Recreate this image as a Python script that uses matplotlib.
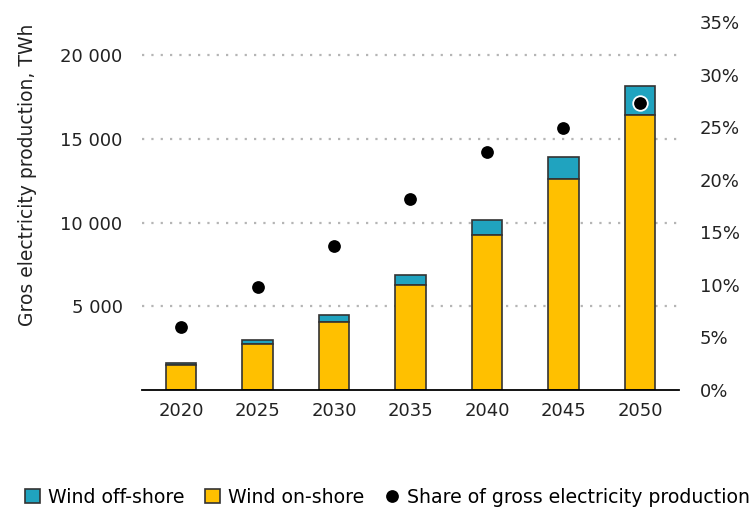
import matplotlib.pyplot as plt
import numpy as np

#--- Data ---
years = ['2020', '2025', '2030', '2035', '2040', '2045', '2050']
onshore = [1470, 2760, 4080, 6300, 9250, 12630, 16470]     # TWh
offshore = [140, 200, 380, 600, 910, 1290, 1730]          # TWh
share = [6.0, 9.8, 13.7, 18.2, 22.6, 24.9, 27.3]           # % of gross production

left_ticks = [5000, 10000, 15000, 20000]
left_labels = ['5 000', '10 000', '15 000', '20 000']
right_ticks = [0, 5, 10, 15, 20, 25, 30, 35]
right_labels = ['0%', '5%', '10%', '15%', '20%', '25%', '30%', '35%']

#--- Style ---
plt.rcParams['font.family'] = ['DejaVu Sans']
plt.rcParams['font.size'] = 13
c_off = '#20a3bf'
c_on = '#ffc000'
edge = '#333333'
txt = '#222222'

fig = plt.figure(figsize=(7.53, 5.12), dpi=100)
ax1 = fig.add_axes([0.1886, 0.2383, 0.7131, 0.7187])

x = np.arange(len(years))
w = 0.4

b_off = ax1.bar(x, offshore, w, bottom=onshore, color=c_off, edgecolor=edge,
                linewidth=1.2, label='Wind off-shore', zorder=2)
b_on = ax1.bar(x, onshore, w, color=c_on, edgecolor=edge,
               linewidth=1.2, label='Wind on-shore', zorder=2)

ax1.set_xlim(-0.51, len(years) - 0.49)
ax1.set_ylim(0, 22000)
ax1.set_xticks(x)
ax1.set_xticklabels(years)
ax1.set_yticks(left_ticks)
ax1.set_yticklabels(left_labels)
ax1.tick_params(axis='both', length=0, colors=txt)
ax1.tick_params(axis='y', pad=14)
ax1.tick_params(axis='x', pad=9)
ax1.grid(axis='y', color='#b5b5b5', linestyle=(0, (1, 3.2)), linewidth=1.6, zorder=0)
ax1.set_axisbelow(True)
for s in ['top', 'left', 'right']:
    ax1.spines[s].set_visible(False)
ax1.spines['bottom'].set_color('black')
ax1.spines['bottom'].set_linewidth(1.3)
ax1.set_ylabel('Gros electricity production, TWh', color=txt, fontsize=13.5)
ax1.yaxis.set_label_coords(-0.195, 0.584)

#--- Share on right axis ---
ax2 = ax1.twinx()
dots, = ax2.plot(x, share, 'o', color='black', markersize=10.5,
                 markeredgecolor='white', markeredgewidth=1.3,
                 label='Share of gross electricity production', zorder=3)
ax2.set_ylim(0, 35)
ax2.set_yticks(right_ticks)
ax2.set_yticklabels(right_labels)
ax2.tick_params(axis='y', length=0, pad=15, colors=txt)
for s in ax2.spines.values():
    s.set_visible(False)

fig.legend([b_off, b_on, dots],
           ['Wind off-shore', 'Wind on-shore', 'Share of gross electricity production'],
           loc='center', bbox_to_anchor=(0.515, 0.029), ncol=3, frameon=False,
           fontsize=13.6, handlelength=0.8, handleheight=0.8, handletextpad=0.4,
           columnspacing=1.1, borderaxespad=0)

fig.savefig('out.png', dpi=100)
